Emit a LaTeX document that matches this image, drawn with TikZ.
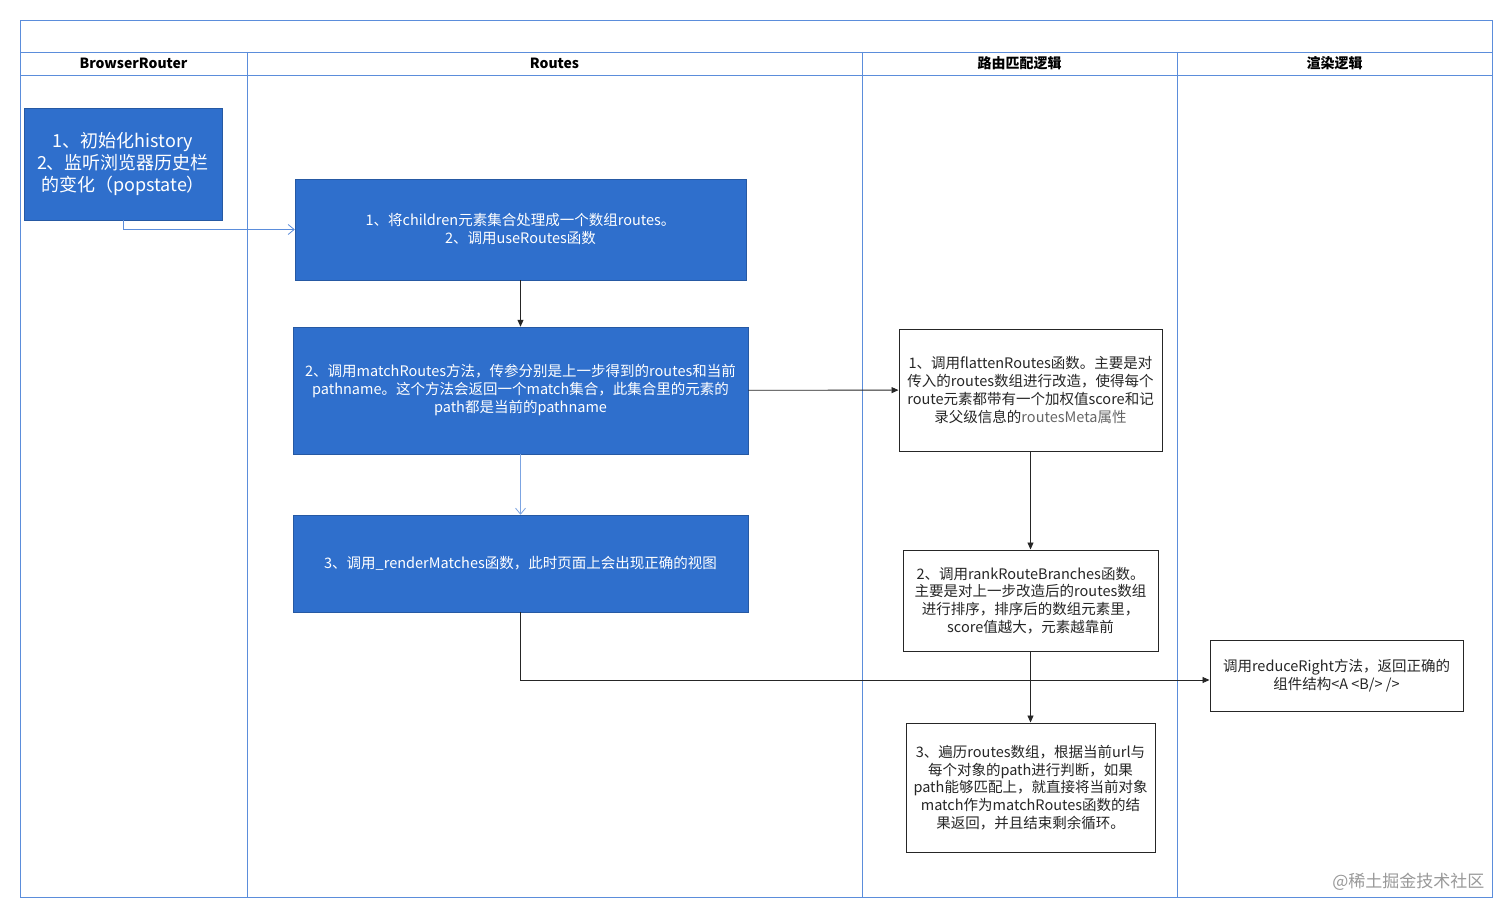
\documentclass[tikz,border=0pt]{standalone}
\usepackage{fontspec}
\setmainfont{Noto Sans CJK SC}
\usetikzlibrary{arrows.meta}
\definecolor{lane}{HTML}{5B8DDB}
\definecolor{bfill}{HTML}{2F6FCC}
\begin{document}
\begin{tikzpicture}[x=1pt,y=-1pt,
 lanel/.style={draw=lane,line width=0.9pt},
 bbox/.style={fill=bfill,draw=bfill!80!black,line width=0.5pt,text=white,align=center,font=\fontsize{14.5}{18}\selectfont,inner sep=0pt},
 wbox/.style={draw=black!85,line width=1pt,align=center,font=\fontsize{14.5}{17.8}\selectfont,text=black!85,inner sep=0pt},
 hd/.style={font=\bfseries\fontsize{14}{16}\selectfont},
 blk/.style={draw=black!85,line width=0.9pt,-{Triangle[length=7pt,width=6pt]}},
 blu/.style={draw=lane,line width=0.8pt,-{Straight Barb[length=6pt,width=10pt]}}]
\useasboundingbox (0,0) rectangle (1512,917);
\fill[white] (0,0) rectangle (1512,917);
\draw[lanel] (20,20) rectangle (1492,897);
\draw[lanel] (20,52) -- (1492,52);
\draw[lanel] (20,75) -- (1492,75);
\foreach \x in {247,862,1177} \draw[lanel] (\x,52) -- (\x,897);
\node[hd] (h1) at (133.5,63.5) {BrowserRouter};
\node[hd] (h2) at (554.5,63.5) {Routes};
\node[hd] (h3) at (1019.5,63.5) {路由匹配逻辑};
\node[hd] (h4) at (1334.5,63.5) {渲染逻辑};
\node[bbox,minimum width=198pt,minimum height=112pt,font=\fontsize{18}{22}\selectfont] (a) at (123,164) {1、初始化history\\2、监听浏览器历史栏\\的变化（popstate）};
\node[bbox,minimum width=451pt,minimum height=101pt] (b) at (520.5,229.5) {1、将children元素集合处理成一个数组routes。\\2、调用useRoutes函数};
\node[bbox,minimum width=455pt,minimum height=127pt] (c) at (520.5,390.5) {2、调用matchRoutes方法，传参分别是上一步得到的routes和当前\\pathname。这个方法会返回一个match集合，此集合里的元素的\\path都是当前的pathname};
\node[bbox,minimum width=455pt,minimum height=97pt] (d) at (520.5,563.5) {3、调用\_renderMatches函数，此时页面上会出现正确的视图};
\node[wbox,minimum width=263pt,minimum height=122pt] (e) at (1030.5,390) {1、调用flattenRoutes函数。主要是对\\传入的routes数组进行改造，使得每个\\route元素都带有一个加权值score和记\\录父级信息的\textcolor{black!60}{routesMeta属性}};
\node[wbox,minimum width=255pt,minimum height=101pt] (f) at (1030.5,600.5) {2、调用rankRouteBranches函数。\\主要是对上一步改造后的routes数组\\进行排序，排序后的数组元素里，\\score值越大，元素越靠前};
\node[wbox,minimum width=249pt,minimum height=129pt] (g) at (1030.5,787.5) {3、遍历routes数组，根据当前url与\\每个对象的path进行判断，如果\\path能够匹配上，就直接将当前对象\\match作为matchRoutes函数的结\\果返回，并且结束剩余循环。};
\node[wbox,minimum width=253pt,minimum height=71pt] (h) at (1336.5,675.5) {调用reduceRight方法，返回正确的\\组件结构<A <B/> />};
\node[text=black!40,font=\fontsize{17}{19}\selectfont,anchor=east] (wm) at (1488,882) {@稀土掘金技术社区};
\draw[blu] (a.south) |- (b.west);
\draw[blk] (b) -- (c);
\draw[blu,draw=lane!80] (c) -- (d);
\draw[blk] (c) -- (e);
\draw[blk] (e) -- (f);
\draw[blk] (f) -- (g);
\coordinate (k) at (520.5,680);
\draw[blk] (d.south) -- (k) -- (h.west|-k);
\end{tikzpicture}
\end{document}
